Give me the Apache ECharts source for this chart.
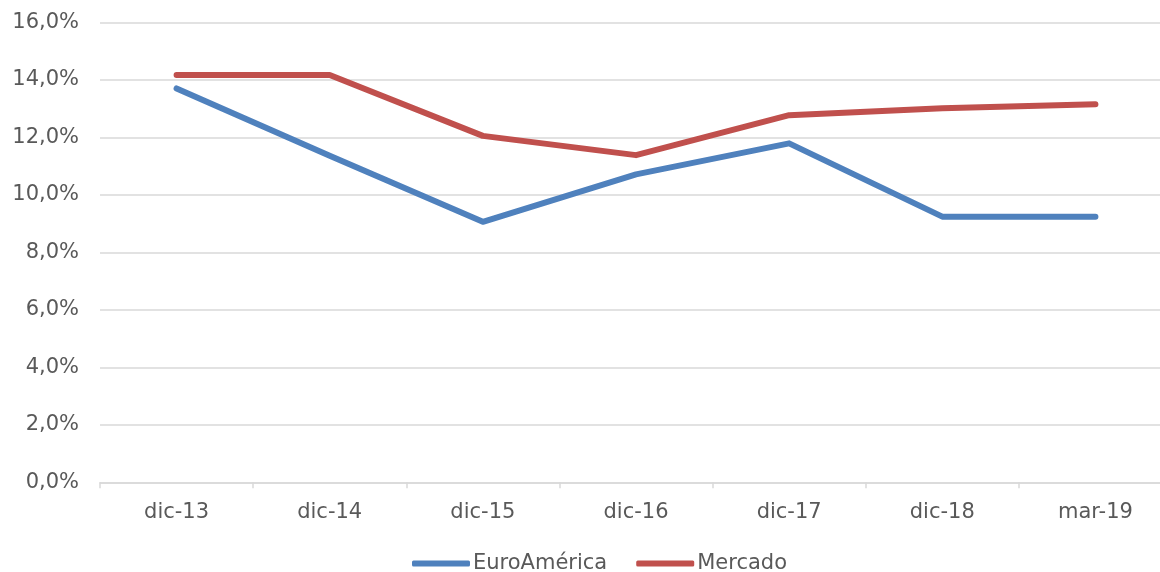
<!DOCTYPE html>
<html>
<head>
<meta charset="utf-8">
<script src="https://cdn.jsdelivr.net/npm/echarts@6/dist/echarts.min.js"></script>
<style>
html,body{margin:0;padding:0;background:#fff;}
#chart{width:1160px;height:572px;}
</style>
</head>
<body>
<div id="chart"></div>
<script>
const categories = ['dic-13','dic-14','dic-15','dic-16','dic-17','dic-18','mar-19'];
const euroAmerica = [13.70, 11.36, 9.06, 10.71, 11.79, 9.24, 9.24];
const mercado = [14.17, 14.17, 12.05, 11.38, 12.77, 13.01, 13.15];
const seriesNames = ['EuroAmérica', 'Mercado'];

const FONT = '"DejaVu Sans", Verdana, sans-serif';
const chart = echarts.init(document.getElementById('chart'));
chart.setOption({
  animation: false,
  backgroundColor: '#ffffff',
  grid: { left: 100, width: 1072, top: 22.3, height: 460, containLabel: false, outerBoundsMode: 'none' },
  legend: {
    left: 407, top: 548,
    itemWidth: 58, itemHeight: 6, itemGap: 29,
    icon: 'roundRect',
    textStyle: { color: '#595959', fontSize: 21, fontFamily: FONT, padding: [0,0,0,-2] },
    data: seriesNames
  },
  xAxis: {
    type: 'category',
    data: categories,
    boundaryGap: true,
    axisLine: { lineStyle: { color: '#D9D9D9', width: 1.5 } },
    axisTick: { show: true, length: 6, lineStyle: { color: '#D9D9D9', width: 1.5 } },
    axisLabel: { color: '#595959', fontSize: 21, fontFamily: FONT, margin: 20 }
  },
  yAxis: {
    type: 'value',
    min: 0, max: 16, interval: 2,
    axisLine: { show: false },
    axisTick: { show: false },
    splitLine: { lineStyle: { color: '#D9D9D9', width: 1.5 } },
    axisLabel: {
      color: '#595959', fontSize: 21, fontFamily: FONT, margin: 21,
      formatter: v => v.toFixed(1).replace('.', ',') + '%'
    }
  },
  series: [
    {
      name: seriesNames[0], type: 'line', data: euroAmerica,
      symbol: 'none', color: '#4F81BD',
      lineStyle: { width: 6, color: '#4F81BD', cap: 'round', join: 'round' }
    },
    {
      name: seriesNames[1], type: 'line', data: mercado,
      symbol: 'none', color: '#C0504D',
      lineStyle: { width: 6, color: '#C0504D', cap: 'round', join: 'round' }
    }
  ]
});
</script>
</body>
</html>
